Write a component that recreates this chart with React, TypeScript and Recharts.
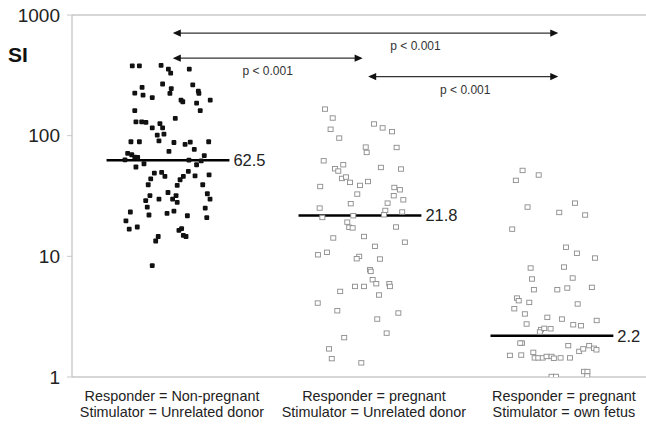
import { ScatterChart, Scatter, XAxis, YAxis, ReferenceLine } from 'recharts';

// group labels (responder / stimulator)
const categoryLines = [
  ['Responder = Non-pregnant', 'Stimulator = Unrelated donor'],
  ['Responder = pregnant', 'Stimulator = Unrelated donor'],
  ['Responder = pregnant', 'Stimulator = own fetus'],
];
const yTicks = [1, 10, 100, 1000];
const medians = [62.5, 21.8, 2.2];

// horizontal jitter (relative to the group centre) and SI value of each dot
const g1Offsets = [-0.186, -0.149, -0.036, 0.002, 0.014, 0.111, -0.135, -0.173, -0.13, -0.082, -0.028, 0.017, 0.01, 0.129, 0.158, 0.161, 0.068, 0.077, 0.149, 0.22, 0.168, -0.173, 0.038, -0.167, -0.137, -0.115, -0.082, -0.042, -0.028, -0.056, -0.021, -0.193, -0.149, -0.047, 0.031, 0.089, 0.116, 0.137, 0.212, 0.005, -0.21, -0.189, -0.173, -0.224, -0.158, 0.109, 0.149, 0.189, 0.173, -0.167, -0.125, -0.071, -0.033, -0.016, -0.09, -0.103, 0.106, 0.08, 0.063, 0.048, 0.141, 0.214, 0.181, -0.094, -0.116, -0.047, 0, 0.042, 0.024, 0.048, 0.205, 0.219, -0.108, -0.196, -0.099, -0.005, 0.031, 0.101, 0.194, 0.202, -0.219, -0.202, -0.16, -0.051, -0.064, 0.057, 0.071, 0.08, 0.094, -0.082];
const g1Values = [379, 379, 382, 356, 330, 356, 251, 225, 217, 207, 268, 245, 224, 264, 234, 224, 197, 191, 186, 197, 161, 161, 139, 130, 130, 129, 116, 126, 116, 101, 103, 89, 89, 90.7, 87.8, 84.6, 88.5, 76.9, 89, 74, 71.2, 69.5, 66.5, 63.1, 66, 62.8, 57.4, 68.2, 61.9, 55, 58.5, 49, 49.6, 45.9, 43.9, 39.2, 50.5, 45.9, 43.1, 38.7, 46.5, 47.4, 39.2, 31.8, 28.9, 29.8, 33.8, 31.8, 29.8, 28, 33, 29.8, 25.6, 23.3, 22, 22.7, 23.7, 21.7, 25.1, 20.9, 19.7, 16.8, 17.5, 14.6, 13.4, 16.4, 17, 14.9, 14.6, 8.36];

const g2Offsets = [-0.182, -0.142, -0.153, -0.108, 0.073, 0.118, 0.167, 0.191, 0.03, 0.035, -0.189, -0.087, -0.13, -0.113, -0.094, -0.073, -0.052, 0, 0.042, 0.109, 0.214, -0.207, -0.014, -0.048, 0.179, 0.208, 0.176, 0.226, 0.144, 0.22, -0.21, 0.132, 0.125, -0.196, -0.035, -0.066, -0.056, -0.038, 0.188, -0.139, 0.021, 0.078, 0.234, -0.219, -0.172, -0.004, -0.017, 0.104, 0.052, 0.056, 0.066, 0.085, -0.026, 0.021, 0.153, 0.156, -0.103, 0.099, -0.22, -0.118, 0.2, 0.09, 0.139, -0.082, -0.161, -0.147, 0.007];
const g2Values = [166, 140, 113, 95.5, 125, 116, 108, 79.8, 80.4, 72.6, 61.9, 57.4, 53.2, 50.9, 44.2, 45.4, 41, 38.7, 41.7, 54.5, 52.9, 37.9, 32.8, 27.3, 37.2, 35.6, 31.8, 29.4, 27.6, 23.3, 25.1, 24, 22.1, 21, 21.7, 19.2, 17.4, 17.2, 17.5, 14.2, 14.6, 12.1, 13.1, 10.3, 10.8, 9.98, 9.55, 9.5, 7.74, 7.5, 6.4, 5.93, 5.63, 5.63, 5.93, 5.63, 5.12, 4.78, 4.1, 3.54, 3.39, 3.02, 2.31, 2.12, 1.71, 1.42, 1.31];

const g3Offsets = [-0.153, -0.188, -0.069, -0.127, 0.12, 0.038, 0.173, -0.207, 0.073, 0.13, 0.224, -0.111, 0.063, -0.104, 0.108, -0.094, 0.028, 0.08, 0.208, -0.182, -0.173, -0.118, -0.196, 0.134, -0.141, -0.024, 0.052, 0.233, -0.132, 0.111, 0.151, -0.057, -0.063, -0.04, -0.007, -0.156, -0.165, 0.085, -0.219, -0.16, -0.097, -0.09, -0.071, -0.048, -0.028, -0.002, 0.01, 0.045, 0.094, 0.142, 0.163, 0.194, 0.219, 0.232, -0.002, 0.021, 0.167, 0.185, 0.184];
const g3Values = [51.5, 42.6, 47.2, 25.6, 27.6, 23.1, 22, 16.8, 11.9, 10.6, 9.68, 8, 8.15, 6.49, 6.61, 5.29, 5.29, 5.46, 5.53, 4.51, 4.29, 4.15, 3.68, 4.03, 3.33, 3.12, 3.02, 2.94, 2.75, 2.71, 2.66, 2.47, 2.36, 2.53, 2.51, 1.91, 1.91, 1.82, 1.51, 1.52, 1.6, 1.44, 1.44, 1.44, 1.48, 1.48, 1.43, 1.44, 1.44, 1.63, 1.71, 1.82, 1.73, 1.68, 1.01, 1.01, 1.11, 1.11, 1.02];

// pairwise comparisons drawn as double arrows
const comparisons = [
  { from: 1.025, to: 3.033, level: 708, text: 'p < 0.001' },
  { from: 1.025, to: 2.014, level: 439, text: 'p < 0.001' },
  { from: 2.043, to: 3.033, level: 309, text: 'p < 0.001' },
];
const pLabelShift = [50, 0, 2];

const toPoints = (group: number, offs: number[], vals: number[]) =>
  vals.map((v, i) => ({ x: group + offs[i], y: v }));

const g1 = toPoints(1, g1Offsets, g1Values);
const g2 = toPoints(2, g2Offsets, g2Values);
const g3 = toPoints(3, g3Offsets, g3Values);

const filledSquare = (p: any) => (
  <rect x={p.cx - 2.4} y={p.cy - 2.4} width={4.8} height={4.8} fill="#111" rx={1} />
);
const openSquare = (p: any) => (
  <rect x={p.cx - 2.5} y={p.cy - 2.2} width={5} height={4.4} fill="#fff" stroke="#8c8c8c" strokeWidth={0.9} />
);

const CategoryTick = (props: any) => {
  const { x, y, index } = props;
  const shift = [4, 14, 12][index] ?? 0;
  const lines = categoryLines[index] || [];
  return (
    <text x={x + shift} y={y} textAnchor="middle" fontSize={14.4} fill="#222">
      <tspan x={x + shift} dy={16}>{lines[0]}</tspan>
      <tspan x={x + shift} dy={16}>{lines[1]}</tspan>
    </text>
  );
};

const medianShape = (value: number) => (p: any) => (
  <g>
    <line x1={p.x1} y1={p.y1} x2={p.x2} y2={p.y2} stroke="#000" strokeWidth={2.6} />
    <text x={p.x2 + 4} y={p.y2} dy={6} fontSize={16.5} fill="#222">{value}</text>
  </g>
);

const arrowShape = (text: string, shift: number) => (p: any) => {
  const y = p.y1;
  const a = 8;
  const h = 3.6;
  return (
    <g>
      <line x1={p.x1 + 2} y1={y} x2={p.x2 - 2} y2={y} stroke="#333" strokeWidth={1.3} />
      <polygon points={`${p.x1},${y} ${p.x1 + a},${y - h} ${p.x1 + a},${y + h}`} fill="#111" />
      <polygon points={`${p.x2},${y} ${p.x2 - a},${y - h} ${p.x2 - a},${y + h}`} fill="#111" />
      <text x={(p.x1 + p.x2) / 2 + shift} y={y + 17} textAnchor="middle" fontSize={12} fill="#333">{text}</text>
    </g>
  );
};

export default function App() {
  return (
    <div style={{ position: 'absolute', left: 0, top: 0, width: 646, height: 424, background: '#fff', fontFamily: '"Liberation Sans", Arial, sans-serif' }}>
      <div style={{ position: 'absolute', left: 8, top: 43, fontSize: 21, fontWeight: 'bold', color: '#111' }}>SI</div>
      <ScatterChart width={646} height={424} margin={{ top: 15, right: 0, bottom: 0, left: 0 }}>
        <XAxis
          type="number"
          dataKey="x"
          domain={[0.5, 3.49]}
          ticks={[1, 2, 3]}
          interval={0}
          height={47}
          tickLine={false}
          axisLine={{ stroke: '#c8c8c8', strokeWidth: 1.5 }}
          tick={<CategoryTick />}
          allowDataOverflow
        />
        <YAxis
          type="number"
          dataKey="y"
          scale="log"
          domain={[1, 1000]}
          ticks={yTicks}
          interval={0}
          width={72}
          tickSize={5}
          tickMargin={7}
          tickLine={{ stroke: '#c8c8c8' }}
          axisLine={{ stroke: '#c0c0c0', strokeWidth: 1.2 }}
          tick={{ fontSize: 19, fill: '#222' }}
          allowDataOverflow
        />
        <ReferenceLine y={1000} stroke="#c8c8c8" strokeWidth={1.5} />
        <Scatter data={g1} shape={filledSquare} isAnimationActive={false} />
        <Scatter data={g2} shape={openSquare} isAnimationActive={false} />
        <Scatter data={g3} shape={openSquare} isAnimationActive={false} />
        {medians.map((m, i) => (
          <ReferenceLine
            key={'m' + i}
            segment={[{ x: i + 1 - 0.32, y: m }, { x: i + 1 + 0.32, y: m }]}
            shape={medianShape(m)}
          />
        ))}
        {comparisons.map((c, i) => (
          <ReferenceLine
            key={'c' + i}
            segment={[{ x: c.from, y: c.level }, { x: c.to, y: c.level }]}
            shape={arrowShape(c.text, pLabelShift[i])}
          />
        ))}
      </ScatterChart>
    </div>
  );
}
